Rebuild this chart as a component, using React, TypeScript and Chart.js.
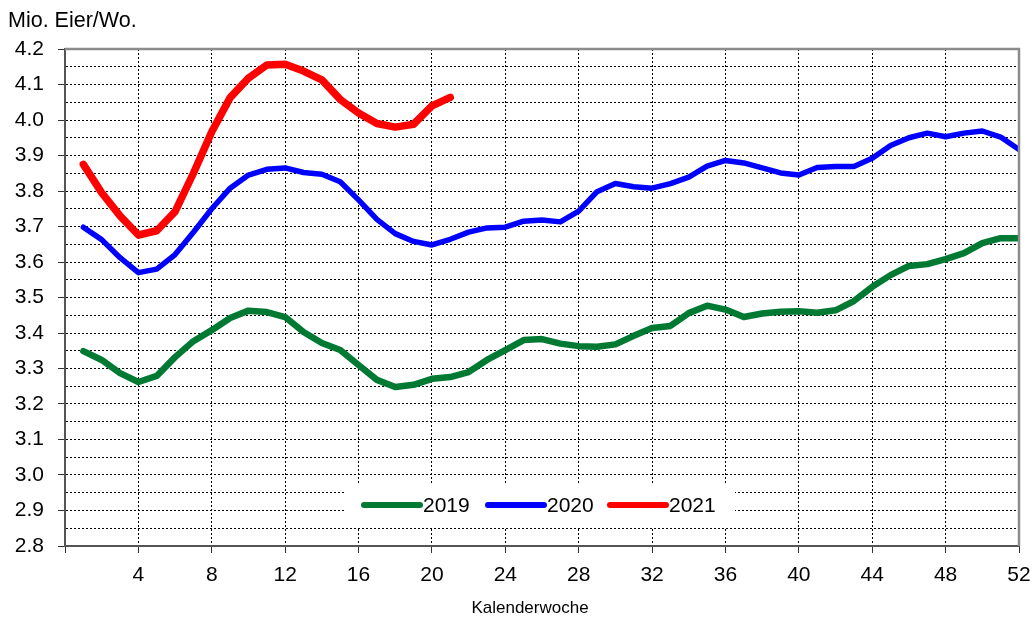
import React, { useEffect, useRef } from "react";
import { Chart, registerables } from "chart.js";

Chart.register(...registerables);

const weeks2019: number[] = Array.from({ length: 52 }, (_, i) => i + 1);
const values2019: number[] = [
  3.349, 3.324, 3.287, 3.262, 3.279, 3.332, 3.377, 3.408, 3.442, 3.463,
  3.459, 3.445, 3.403, 3.372, 3.352, 3.31, 3.268, 3.248, 3.254, 3.271,
  3.276, 3.29, 3.324, 3.352, 3.38, 3.383, 3.37, 3.363, 3.361, 3.368,
  3.392, 3.414, 3.42, 3.456, 3.477, 3.466, 3.445, 3.455, 3.46, 3.461,
  3.457, 3.464, 3.49, 3.53, 3.563, 3.589, 3.594, 3.608, 3.625, 3.653,
  3.667, 3.667,
];
const values2020: number[] = [
  3.698, 3.663, 3.612, 3.57, 3.58, 3.621, 3.684, 3.75, 3.808, 3.845,
  3.861, 3.865, 3.852, 3.847, 3.826, 3.775, 3.72, 3.68, 3.658, 3.648,
  3.664, 3.684, 3.696, 3.698, 3.715, 3.718, 3.713, 3.743, 3.798, 3.821,
  3.812, 3.808, 3.821, 3.839, 3.87, 3.886, 3.879, 3.865, 3.851, 3.845,
  3.866, 3.869, 3.869, 3.892, 3.928, 3.95, 3.963, 3.953, 3.963, 3.969,
  3.952, 3.917,
];
const weeks2021: number[] = Array.from({ length: 21 }, (_, i) => i + 1);
const values2021: number[] = [
  3.875, 3.795, 3.73, 3.676, 3.688, 3.742, 3.85, 3.967, 4.063, 4.118,
  4.155, 4.157, 4.138, 4.113, 4.058, 4.02, 3.99, 3.98, 3.988, 4.04,
  4.064,
];
const seriesLabels: string[] = ["2019", "2020", "2021"];
const seriesColors: string[] = ["#007A33", "#0000FF", "#FF0000"];
const seriesWidths: number[] = [6.5, 5.5, 7.5];
const yAxisTitle = "Mio. Eier/Wo.";
const xAxisTitle = "Kalenderwoche";

const FONT = "'Liberation Sans', Arial, sans-serif";

const isMajor = (v: number) => Math.abs(Math.round(v * 10) - v * 10) < 1e-6;

const decorPlugin = {
  id: "decor",
  beforeDatasetsDraw(chart: any) {
    const { ctx } = chart;
    ctx.save();
    ctx.fillStyle = "#ffffff";
    ctx.fillRect(345, 484, 390, 44);
    const starts = [364, 488, 610];
    for (let i = 0; i < 3; i++) {
      const x0 = starts[i];
      ctx.strokeStyle = seriesColors[i];
      ctx.lineWidth = 6;
      ctx.lineCap = "round";
      ctx.beginPath();
      ctx.moveTo(x0, 505);
      ctx.lineTo(x0 + 56, 505);
      ctx.stroke();
      ctx.fillStyle = "#000";
      ctx.font = `21px ${FONT}`;
      ctx.textAlign = "left";
      ctx.textBaseline = "middle";
      ctx.fillText(seriesLabels[i], x0 + 59, 506);
    }
    ctx.restore();
  },
  afterDraw(chart: any) {
    const { ctx, chartArea } = chart;
    ctx.save();
    ctx.strokeStyle = "#8c8c8c";
    ctx.lineWidth = 2.5;
    ctx.beginPath();
    ctx.moveTo(chartArea.left, chartArea.top);
    ctx.lineTo(chartArea.right, chartArea.top);
    ctx.lineTo(chartArea.right, chartArea.bottom);
    ctx.stroke();
    ctx.fillStyle = "#000";
    ctx.font = `21.5px ${FONT}`;
    ctx.textAlign = "left";
    ctx.textBaseline = "alphabetic";
    ctx.fillText(yAxisTitle, 8, 27);
    ctx.font = `17px ${FONT}`;
    ctx.textAlign = "center";
    ctx.fillText(xAxisTitle, 530, 613);
    ctx.restore();
  },
};

export default function App() {
  const canvasRef = useRef<HTMLCanvasElement | null>(null);

  useEffect(() => {
    if (!canvasRef.current) return;
    const mk = (xs: number[], ys: number[]) => ys.map((y, i) => ({ x: xs[i], y }));
    const chart = new Chart(canvasRef.current, {
      type: "line",
      data: {
        datasets: [
          { label: seriesLabels[0], data: mk(weeks2019, values2019) },
          { label: seriesLabels[1], data: mk(weeks2019, values2020) },
          { label: seriesLabels[2], data: mk(weeks2021, values2021) },
        ].map((d, i) => ({
          ...d,
          borderColor: seriesColors[i],
          backgroundColor: seriesColors[i],
          borderWidth: seriesWidths[i],
          pointRadius: 0,
          tension: 0,
          fill: false,
          borderJoinStyle: "round" as const,
          borderCapStyle: "round" as const,
        })),
      },
      options: {
        animation: false,
        responsive: true,
        maintainAspectRatio: false,
        layout: { padding: { left: 0, right: 15, top: 49, bottom: 0 } },
        plugins: {
          legend: { display: false },
          title: { display: false },
          tooltip: { enabled: false },
        },
        scales: {
          x: {
            type: "linear",
            min: 0,
            max: 52,
            afterFit: (s: any) => {
              s.height = 72;
              s.paddingLeft = 0;
              s.paddingRight = 0;
            },
            ticks: {
              stepSize: 4,
              padding: 10,
              color: "#000",
              font: { family: FONT, size: 21 },
              callback: (v: any) => (v === 0 ? "" : String(v)),
              maxRotation: 0,
              autoSkip: false,
            },
            grid: {
              color: (c: any) => (c.tick && (c.tick.value === 0 || c.tick.value === 52) ? "rgba(0,0,0,0)" : "#000"),
              lineWidth: 1,
              tickColor: "#333",
              tickLength: 7,
              tickWidth: 1,
            },
            border: { display: true, color: "#555", width: 2, dash: [2, 2] },
          },
          y: {
            type: "linear",
            min: 2.8,
            max: 4.2,
            afterFit: (s: any) => {
              s.width = 65;
              s.paddingTop = 0;
              s.paddingBottom = 0;
            },
            ticks: {
              stepSize: 0.05,
              padding: 14,
              color: "#000",
              font: { family: FONT, size: 21 },
              autoSkip: false,
              callback: (v: any) => (isMajor(Number(v)) ? Number(v).toFixed(1) : ""),
            },
            grid: {
              color: (c: any) => {
                const v = c.tick ? c.tick.value : 0;
                if (Math.abs(v - 2.8) < 1e-6 || Math.abs(v - 4.2) < 1e-6) return "rgba(0,0,0,0)";
                return "#000";
              },
              lineWidth: 1,
              tickColor: (c: any) => (c.tick && isMajor(c.tick.value) ? "#333" : "rgba(0,0,0,0)"),
              tickLength: 7,
              tickWidth: 1,
            },
            border: { display: true, color: "#555", width: 2, dash: [2, 2] },
          },
        },
      },
      plugins: [decorPlugin],
    });
    return () => chart.destroy();
  }, []);

  return (
    <div style={{ position: "absolute", left: 0, top: 0, width: 1034, height: 618, background: "#fff" }}>
      <canvas ref={canvasRef} />
    </div>
  );
}
